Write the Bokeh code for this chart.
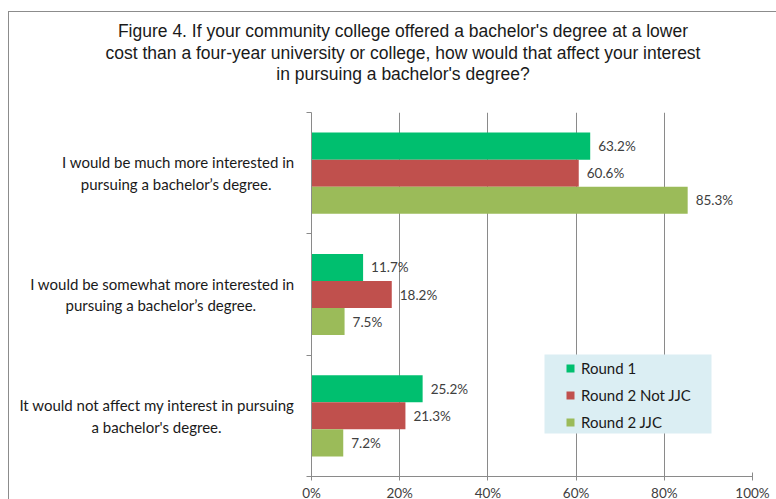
from bokeh.plotting import figure
from bokeh.layouts import column
from bokeh.models import (ColumnDataSource, Range1d, FixedTicker, LinearAxis, Div,
                          PrintfTickFormatter, BoxAnnotation, Legend, LegendItem)
from bokeh.core.properties import value
from bokeh.embed import file_html
from bokeh.resources import INLINE

# ---------------- data ----------------
categories = [
    "I would be much more interested in\npursuing a bachelor\u2019s degree.",
    "I would be somewhat more interested in\npursuing a bachelor\u2019s degree.",
    "It would not affect my interest in pursuing\na bachelor's degree.",
]
series = ["Round 1", "Round 2 Not JJC", "Round 2 JJC"]
round1 = [63.2, 11.7, 25.2]
round2_not_jjc = [60.6, 18.2, 21.3]
round2_jjc = [85.3, 7.5, 7.2]
x_ticks = [0, 20, 40, 60, 80, 100]
title_lines = [
    "Figure 4. If your community college offered a bachelor's degree at a lower",
    "cost than a four-year university or college, how would that affect your interest",
    "in pursuing a bachelor's degree?",
]

colors = ["#00BF6F", "#C0504D", "#9BBB59"]
values_by_series = [round1, round2_not_jjc, round2_jjc]

LABEL_FONT = "Lato"
n = len(categories)
band_center = [n - i - 0.5 for i in range(n)]  # first category on top

# visual centring of the shorter second line (non-breaking spaces on its right)
pad_second_line = [6, 10, 19]
cat_labels = []
for cat, pad in zip(categories, pad_second_line):
    l1, l2 = cat.split("\n")
    cat_labels.append(l1 + "\n" + l2 + "\u00a0" * pad)

title_div = Div(
    text="<div style=\"width:767px; box-sizing:border-box; text-align:center; padding:4px 0 0 11px; "
         "font-family:'Liberation Sans'; font-size:17.5px; line-height:21.5px; color:#1a1a1a;\">"
         + "<br>".join(title_lines) + "</div>",
    width=767, height=88)

p = figure(width=767, height=393, y_range=Range1d(0, n),
           x_range=Range1d(0, 100), output_backend="svg", toolbar_location=None,
           min_border_left=302, min_border_right=24, min_border_top=2, min_border_bottom=22)
p.outline_line_color = None
p.background_fill_color = "white"
p.border_fill_color = "white"

p.ygrid.grid_line_color = None
p.xgrid.ticker = FixedTicker(ticks=x_ticks)
p.xgrid.grid_line_color = "#8a8a8a"
p.xgrid.grid_line_width = 1

xa = p.xaxis[0]
xa.ticker = FixedTicker(ticks=x_ticks)
xa.formatter = PrintfTickFormatter(format="%d%%")
xa.axis_line_color = "#8a8a8a"
xa.major_tick_line_color = "#8a8a8a"
xa.major_tick_in = 4
xa.major_tick_out = 4
xa.minor_tick_line_color = None
xa.major_label_text_font = LABEL_FONT
xa.major_label_text_font_size = "13.5px"
xa.major_label_text_color = "#404040"
xa.major_label_standoff = 4

ya = p.yaxis[0]
ya.ticker = FixedTicker(ticks=list(range(n + 1)))
ya.major_label_overrides = {t: "" for t in range(n + 1)}
ya.major_label_text_font_size = "0px"
ya.major_label_standoff = 0
ya.major_tick_in = 0
ya.major_tick_out = 5
ya.minor_tick_line_color = None
ya.axis_line_color = "#8a8a8a"
ya.major_tick_line_color = "#8a8a8a"

# category labels on a second, tick-less left axis at the band centres
cat_axis = LinearAxis(ticker=FixedTicker(ticks=band_center),
                      major_label_overrides={c: lab for c, lab in zip(band_center, cat_labels)},
                      axis_line_color=None, major_tick_line_color=None, minor_tick_line_color=None,
                      major_label_text_font=LABEL_FONT, major_label_text_font_size="15px",
                      major_label_text_color="#1a1a1a", major_label_standoff=6)
p.add_layout(cat_axis, "left")

height = 0.223
offsets = [height, 0.0, -height]
renderers = []
for s, vals, col, off in zip(series, values_by_series, colors, offsets):
    src = ColumnDataSource(dict(y=[c + off for c in band_center], val=vals,
                                lab=["%.1f%%" % v for v in vals]))
    r = p.hbar(y="y", right="val", left=0, height=height,
               source=src, fill_color=col, line_color=None)
    renderers.append(r)
    p.text(x="val", y="y", text="lab", source=src,
           x_offset=8, text_baseline="middle", text_align="left",
           text_font=value(LABEL_FONT), text_font_size="13.5px", text_color="#404040")

# legend background
p.add_layout(BoxAnnotation(left=233, right=400, bottom=43, top=122,
                           left_units="screen", right_units="screen",
                           bottom_units="screen", top_units="screen",
                           fill_color="#DBEEF3", fill_alpha=1, line_color=None, level="overlay"))

legend = Legend(items=[LegendItem(label=s, renderers=[r]) for s, r in zip(series, renderers)],
                location=(254, 44), padding=0, margin=0, spacing=7, label_height=20,
                glyph_width=10, glyph_height=10, label_standoff=6,
                label_text_font=LABEL_FONT, label_text_font_size="15px",
                label_text_color="#1a1a1a", background_fill_alpha=0,
                border_line_color=None)
p.add_layout(legend, "center")

layout = column(title_div, p, spacing=0,
                styles={"border-top": "1px solid #8c8c8c", "border-left": "1px solid #8c8c8c",
                        "margin-top": "11px", "margin-left": "8px", "background": "white"})

open("out.html", "w").write(file_html(layout, INLINE))
